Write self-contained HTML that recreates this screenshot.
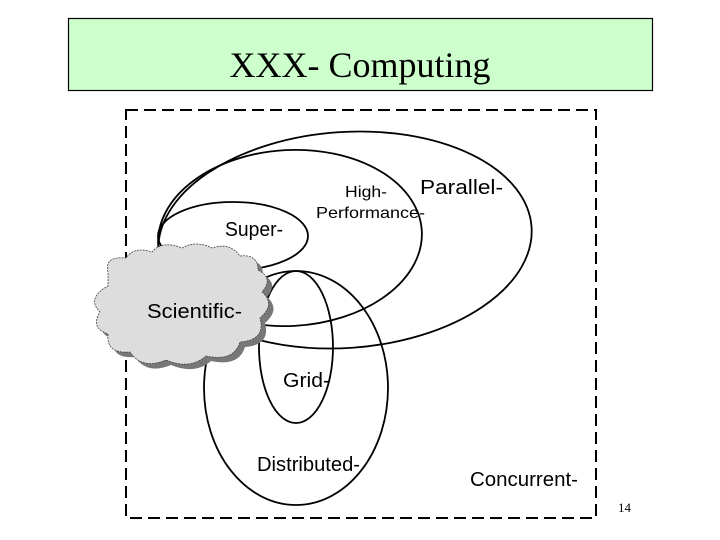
<!DOCTYPE html>
<html><head><meta charset="utf-8"><style>
html,body{margin:0;padding:0;background:#fff;width:720px;height:540px;overflow:hidden}
</style></head><body>
<svg width="720" height="540" viewBox="0 0 720 540" xmlns="http://www.w3.org/2000/svg">
<rect x="68.5" y="18.5" width="584" height="72" fill="#ccffcc" stroke="#000" stroke-width="1.2"/>
<text x="360" y="77" text-anchor="middle" font-family="Liberation Serif, serif" font-size="36">XXX- Computing</text>
<rect x="126" y="110" width="470" height="408" fill="none" stroke="#000" stroke-width="2" stroke-dasharray="12,6"/>
<g fill="none" stroke="#000" stroke-width="1.8">
<ellipse cx="345" cy="240" rx="187" ry="108" transform="rotate(-4 345 240)"/>
<ellipse cx="290" cy="238" rx="132" ry="88" transform="rotate(-3 290 238)"/>
<ellipse cx="233" cy="236" rx="75" ry="34"/>
<ellipse cx="296" cy="388" rx="92" ry="117"/>
<ellipse cx="296" cy="347" rx="37" ry="76"/>
</g>
<g>
<path d="M108 272 q-4-16 18-14 q8-12 26-6 q10-12 30-4 q14-8 30 0 q18-6 28 8 q18-2 18 14 q16 8 4 22 q14 12-2 26 q6 22-20 24 q-6 20-34 14 q-16 14-40 4 q-24 10-36-8 q-24 2-22-18 q-18-6-8-22 q-14-14 8-26 z" fill="#777" transform="translate(5,5)"/>
<path d="M108 272 q-4-16 18-14 q8-12 26-6 q10-12 30-4 q14-8 30 0 q18-6 28 8 q18-2 18 14 q16 8 4 22 q14 12-2 26 q6 22-20 24 q-6 20-34 14 q-16 14-40 4 q-24 10-36-8 q-24 2-22-18 q-18-6-8-22 q-14-14 8-26 z" fill="#ddd" stroke="#444" stroke-width="0.8" stroke-dasharray="2,1"/>
</g>
<g font-family="Liberation Sans, sans-serif" fill="#000">
<text x="147" y="318" font-size="20" textLength="95" lengthAdjust="spacingAndGlyphs">Scientific-</text>
<text x="225" y="236" font-size="20" textLength="58" lengthAdjust="spacingAndGlyphs">Super-</text>
<text x="345" y="197" font-size="16" textLength="42" lengthAdjust="spacingAndGlyphs">High-</text>
<text x="316" y="218" font-size="16" textLength="109" lengthAdjust="spacingAndGlyphs">Performance-</text>
<text x="420" y="194" font-size="20" textLength="83" lengthAdjust="spacingAndGlyphs">Parallel-</text>
<text x="283" y="387" font-size="20" textLength="47" lengthAdjust="spacingAndGlyphs">Grid-</text>
<text x="257" y="471" font-size="20" textLength="103" lengthAdjust="spacingAndGlyphs">Distributed-</text>
<text x="470" y="486" font-size="20" textLength="108" lengthAdjust="spacingAndGlyphs">Concurrent-</text>
</g>
<text x="618" y="512" font-family="Liberation Serif, serif" font-size="13">14</text>
</svg>
</body></html>
